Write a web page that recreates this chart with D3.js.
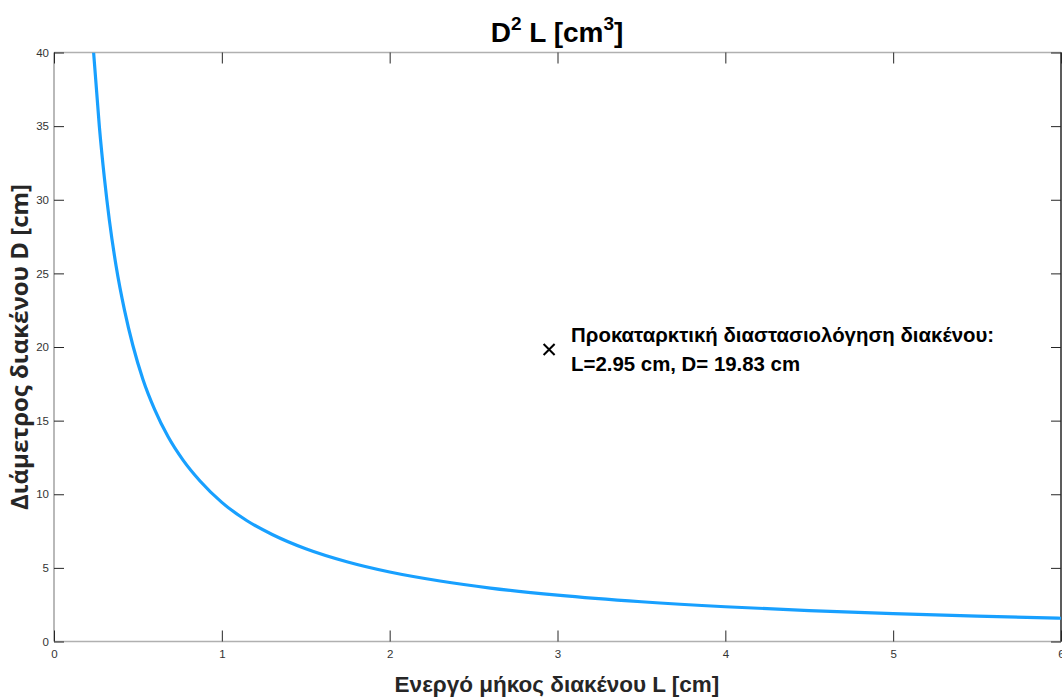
<!DOCTYPE html>
<html>
<head>
<meta charset="utf-8">
<script src="https://cdn.jsdelivr.net/npm/d3@7"></script>
<style>
  html, body { margin: 0; padding: 0; background: #fff; }
  svg { display: block; }
</style>
</head>
<body>
<svg id="chart" width="1062" height="698"></svg>
<script>
// ---- data ----
const lengthL = [0.236, 0.27, 0.30, 0.33, 0.37, 0.42, 0.47, 0.53, 0.60, 0.68, 0.77, 0.87, 1.0, 1.15, 1.3, 1.5, 1.75, 2.0, 2.3, 2.6, 3.0, 3.5, 4.0, 4.5, 5.0, 5.5, 6.0];
const diameterD = [40.0, 35.0, 31.5, 28.6, 25.5, 22.5, 20.1, 17.8, 15.75, 13.9, 12.3, 10.9, 9.45, 8.2, 7.27, 6.3, 5.4, 4.72, 4.11, 3.63, 3.15, 2.70, 2.36, 2.10, 1.89, 1.72, 1.58];
const markerPoint = { L: 2.95, D: 19.83 };
const xTicks = [0, 1, 2, 3, 4, 5, 6];
const yTicks = [0, 5, 10, 15, 20, 25, 30, 35, 40];
const annotationLines = ["Προκαταρκτική διαστασιολόγηση διακένου:", "L=2.95 cm, D= 19.83 cm"];

const svg = d3.select("#chart");
const m = { left: 54, right: 1061, top: 52.5, bottom: 641.5 };

const x = d3.scaleLinear().domain([0, 6]).range([m.left, m.right]);
const y = d3.scaleLinear().domain([0, 40]).range([m.bottom, m.top]);

const tickFont = "'Liberation Sans', Arial, sans-serif";

// frame lines
svg.append("line").attr("x1", m.left).attr("x2", m.right).attr("y1", m.bottom).attr("y2", m.bottom)
  .attr("stroke", "#b0b0b0").attr("stroke-width", 1.5);
svg.append("line").attr("x1", m.left).attr("x2", m.right).attr("y1", m.top).attr("y2", m.top)
  .attr("stroke", "#b0b0b0").attr("stroke-width", 1.5);
svg.append("line").attr("x1", m.left).attr("x2", m.left).attr("y1", m.top).attr("y2", m.bottom)
  .attr("stroke", "#8a8a8a").attr("stroke-width", 1.2);
svg.append("line").attr("x1", m.right).attr("x2", m.right).attr("y1", m.top).attr("y2", m.bottom)
  .attr("stroke", "#262626").attr("stroke-width", 1.5);

// axes with inward ticks
const xAxisB = d3.axisBottom(x).tickValues(xTicks).tickSizeInner(-11).tickSizeOuter(0).tickPadding(16).tickFormat(d3.format("d"));
const gxb = svg.append("g").attr("transform", `translate(0,${m.bottom})`).call(xAxisB);
gxb.select(".domain").remove();
gxb.selectAll(".tick line").attr("stroke", "#262626");
gxb.selectAll(".tick text").attr("font-family", tickFont).attr("font-size", 11.5).attr("fill", "#333").attr("dy", "0.71em").attr("y", 8);

const xAxisT = d3.axisTop(x).tickValues(xTicks).tickSizeInner(-11).tickSizeOuter(0).tickFormat("");
const gxt = svg.append("g").attr("transform", `translate(0,${m.top})`).call(xAxisT);
gxt.select(".domain").remove();
gxt.selectAll(".tick line").attr("stroke", "#262626");

const yAxisL = d3.axisLeft(y).tickValues(yTicks).tickSizeInner(-10).tickSizeOuter(0).tickPadding(16).tickFormat(d3.format("d"));
const gyl = svg.append("g").attr("transform", `translate(${m.left},0)`).call(yAxisL);
gyl.select(".domain").remove();
gyl.selectAll(".tick line").attr("stroke", "#262626");
gyl.selectAll(".tick text").attr("font-family", tickFont).attr("font-size", 11.5).attr("fill", "#333").attr("x", -5);

const yAxisR = d3.axisRight(y).tickValues(yTicks).tickSizeInner(-10).tickSizeOuter(0).tickFormat("");
const gyr = svg.append("g").attr("transform", `translate(${m.right},0)`).call(yAxisR);
gyr.select(".domain").remove();
gyr.selectAll(".tick line").attr("stroke", "#262626");

// curve
svg.append("defs").append("clipPath").attr("id", "clip").append("rect")
  .attr("x", m.left).attr("y", m.top).attr("width", m.right - m.left).attr("height", m.bottom - m.top);
const pts = lengthL.map((l, i) => [l, diameterD[i]]);
const line = d3.line().x(d => x(d[0])).y(d => y(d[1])).curve(d3.curveMonotoneX);
svg.append("path").datum(pts).attr("d", line).attr("fill", "none")
  .attr("stroke", "#18a0ff").attr("stroke-width", 3.2).attr("clip-path", "url(#clip)");

// marker ×
const mx = x(markerPoint.L), my = y(markerPoint.D), s = 5.5;
svg.append("path").attr("d", `M${mx - s},${my - s}L${mx + s},${my + s}M${mx - s},${my + s}L${mx + s},${my - s}`)
  .attr("stroke", "#000").attr("stroke-width", 2).attr("fill", "none");

// annotation
const ann = svg.append("text").attr("font-family", tickFont).attr("font-weight", "bold").attr("font-size", 20.4).attr("fill", "#000");
ann.selectAll("tspan").data(annotationLines).join("tspan")
  .attr("x", mx + 22).attr("y", (d, i) => my - 8 + i * 29).text(d => d);

// title
const title = svg.append("text").attr("x", 557).attr("y", 42).attr("text-anchor", "middle")
  .attr("font-family", tickFont).attr("font-weight", "bold").attr("font-size", 28).attr("fill", "#000");
title.append("tspan").text("D");
title.append("tspan").attr("font-size", 19).attr("dy", -12).text("2");
title.append("tspan").attr("dy", 12).text(" L [cm");
title.append("tspan").attr("font-size", 19).attr("dy", -12).text("3");
title.append("tspan").attr("dy", 12).text("]");

// axis labels
svg.append("text").attr("x", 557).attr("y", 692).attr("text-anchor", "middle")
  .attr("font-family", tickFont).attr("font-weight", "bold").attr("font-size", 22.5).attr("fill", "#262626")
  .text("Ενεργό μήκος διακένου L [cm]");
svg.append("text").attr("transform", `translate(28,${347}) rotate(-90)`).attr("text-anchor", "middle")
  .attr("font-family", "'Open Sans', sans-serif").attr("font-weight", "bold").attr("font-size", 24).attr("fill", "#262626")
  .text("Διάμετρος διακένου D [cm]");
</script>
</body>
</html>
